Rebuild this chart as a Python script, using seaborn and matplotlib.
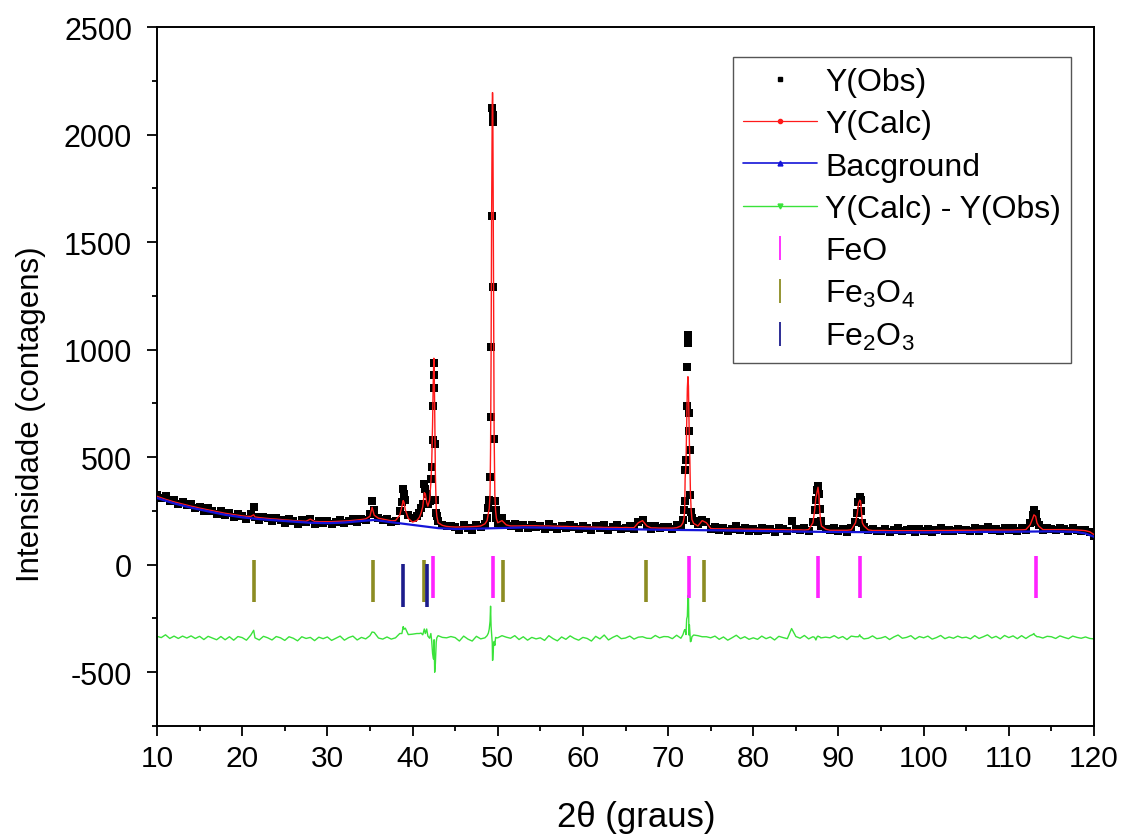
import numpy as np
import pandas as pd
import matplotlib
matplotlib.use("Agg")
import matplotlib.pyplot as plt
from matplotlib.lines import Line2D
import seaborn as sns

# ---------------- data ----------------
two_theta_base = np.round(np.arange(10, 120.001, 0.5), 2)   # 0.5 deg sampling grid

obs_base = [
    325, 312, 318, 295, 300, 284, 290, 276, 281, 265,   # 10.0-14.5
    270, 251, 262, 250, 238, 249, 230, 241, 222, 236,   # 15.0-19.5
    228, 214, 236, 222, 209, 224, 215, 203, 218, 210,   # 20.0-24.5
    196, 212, 203, 190, 208, 199, 214, 188, 203, 196,   # 25.0-29.5
    204, 188, 199, 210, 192, 205, 214, 198, 212, 208,   # 30.0-34.5
    235, 255, 215, 206, 212, 198, 205, 250, 330, 230,   # 35.0-39.5
    215, 225, 262, 350, 298, 880, 205, 185, 178, 182,   # 40.0-44.5
    176, 160, 184, 170, 162, 185, 175, 190, 300, 1289,  # 45.0-49.5
    195, 215, 188, 178, 190, 172, 186, 170, 183, 176,   # 50.0-54.5
    180, 168, 190, 175, 165, 182, 171, 186, 174, 165,   # 55.0-59.5
    178, 172, 160, 181, 169, 186, 163, 175, 184, 168,   # 60.0-64.5
    172, 180, 166, 198, 210, 178, 168, 182, 170, 176,   # 65.0-69.5
    175, 166, 184, 178, 438, 620, 205, 190, 210, 200,   # 70.0-74.5
    168, 175, 160, 171, 155, 166, 178, 162, 170, 158,   # 75.0-79.5
    165, 158, 172, 160, 168, 153, 170, 164, 158, 205,   # 80.0-84.5
    168, 160, 172, 158, 200, 345, 180, 168, 160, 170,   # 85.0-89.5
    158, 166, 152, 170, 200, 314, 175, 160, 168, 155,   # 90.0-94.5
    158, 165, 150, 162, 171, 156, 160, 168, 152, 164,   # 95.0-99.5
    158, 166, 152, 160, 170, 155, 163, 158, 168, 160,   # 100.0-104.5
    163, 155, 170, 158, 166, 175, 160, 168, 156, 172,   # 105.0-109.5
    162, 170, 158, 172, 160, 195, 244, 185, 162, 170,   # 110.0-114.5
    168, 160, 172, 165, 158, 170, 163, 158, 162, 150,   # 115.0-119.5
    135,                                                # 120.0
]

calc_base = [
    318, 311, 304, 298, 292, 287, 282, 277, 272, 268,
    263, 259, 255, 251, 247, 243, 239, 236, 233, 230,
    227, 225, 224, 222, 219, 217, 215, 213, 212, 210,
    208, 207, 205, 204, 203, 202, 212, 201, 200, 200,
    200, 200, 201, 202, 203, 204, 206, 208, 210, 213,
    225, 230, 216, 212, 208, 204, 205, 230, 290, 215,
    198, 205, 240, 330, 300, 960, 195, 183, 178, 176,
    175, 175, 176, 176, 177, 178, 180, 190, 260, 1330,
    195, 205, 185, 180, 180, 180, 181, 181, 181, 181,
    180, 180, 180, 179, 179, 178, 178, 177, 177, 176,
    176, 175, 175, 174, 174, 173, 173, 173, 173, 172,
    173, 172, 172, 195, 205, 180, 171, 171, 170, 170,
    170, 170, 172, 180, 400, 560, 192, 180, 205, 195,
    168, 167, 167, 167, 166, 166, 166, 166, 165, 165,
    165, 165, 164, 164, 164, 163, 163, 163, 162, 162,
    162, 162, 161, 163, 195, 340, 180, 165, 160, 160,
    160, 160, 160, 162, 195, 300, 180, 162, 159, 159,
    159, 159, 158, 158, 158, 158, 158, 158, 158, 158,
    158, 158, 158, 159, 159, 159, 159, 160, 160, 160,
    160, 160, 160, 161, 161, 161, 161, 161, 161, 161,
    161, 161, 162, 162, 163, 185, 230, 180, 163, 163,
    163, 163, 163, 163, 162, 162, 161, 160, 158, 153,
    140,
]

# extra, finer-sampled points across the diffraction peaks
two_theta_peak = [21.35, 35.25, 38.75, 38.9, 39.15,
                  40.8, 41.2, 41.38, 41.66, 41.8, 42.15, 42.25, 42.35, 42.42, 42.47,
                  42.53, 42.6, 42.68, 42.78, 42.85,
                  48.75, 48.9, 49.1, 49.16, 49.22, 49.28, 49.36, 49.39, 49.42, 49.58,
                  49.66, 49.75, 49.85,
                  71.75, 71.88, 71.95, 72.1, 72.18, 72.26, 72.33, 72.39, 72.45, 72.55,
                  72.62, 72.7, 72.8,
                  87.2, 87.35, 87.6, 87.7, 87.8, 87.9,
                  92.2, 92.35, 92.6, 92.7, 92.8,
                  112.8, 112.95, 113.15, 113.3]
obs_peak = [267, 294, 290, 350, 300,
            240, 284, 376, 331, 280, 400, 454, 578, 738, 821,
            936, 560, 300, 240, 225,
            215, 262, 407, 687, 1013, 1620, 2125, 2090, 2058, 583,
            295, 252, 215,
            210, 252, 298, 485, 737, 920, 1068, 1029, 703, 532,
            322, 244, 215,
            252, 300, 368, 330, 260, 205,
            240, 290, 300, 250, 195,
            230, 252, 235, 200]
calc_peak = [232, 267, 270, 298, 255,
             220, 270, 335, 290, 272, 380, 470, 650, 830, 920,
             945, 720, 420, 260, 225,
             205, 240, 330, 540, 960, 1600, 2150, 2195, 2160, 600,
             330, 250, 215,
             195, 220, 260, 470, 650, 820, 874, 830, 690, 500,
             340, 260, 210,
             250, 310, 360, 325, 255, 205,
             235, 285, 295, 245, 195,
             215, 232, 225, 195]

bg_x = [10, 12, 14, 16, 18, 20, 22, 24, 26, 28, 30, 32, 34, 35.5, 37, 39, 41, 43, 45, 48,
        50, 53, 56, 60, 65, 70, 75, 80, 85, 90, 95, 100, 105, 110, 115, 118, 119, 120]
bg_y = [310, 285, 265, 248, 232, 220, 212, 206, 200, 195, 193, 196, 203, 208, 200, 190, 180, 170, 166, 168,
        170, 173, 172, 168, 165, 162, 160, 157, 154, 152, 151, 150, 152, 153, 155, 152, 145, 130]

feo_pos = [42.45, 49.4, 72.4, 87.6, 92.55, 113.15]
fe3o4_pos = [21.4, 35.3, 41.4, 50.6, 67.4, 74.25]
fe2o3_pos = [38.9, 41.65]

series_labels = ["Y(Obs)", "Y(Calc)", "Bacground", "Y(Calc) - Y(Obs)",
                 "FeO", "Fe$_3$O$_4$", "Fe$_2$O$_3$"]

DIFF_OFFSET = -340

# ---------------- styling ----------------
sns.set_theme(style="ticks")

FONT = "Liberation Sans"
plt.rcParams["font.family"] = [FONT, "DejaVu Sans"]
plt.rcParams["mathtext.fontset"] = "custom"
plt.rcParams["mathtext.rm"] = FONT
plt.rcParams["mathtext.it"] = FONT + ":italic"
plt.rcParams["mathtext.bf"] = FONT + ":bold"
plt.rcParams["text.color"] = "black"
plt.rcParams["axes.labelcolor"] = "black"
plt.rcParams["xtick.color"] = "black"
plt.rcParams["ytick.color"] = "black"
plt.rcParams["axes.edgecolor"] = "black"
plt.rcParams["axes.unicode_minus"] = False

C_OBS = "#000000"
C_CALC = "#ff1a1a"
C_BG = "#1414d8"
C_DIFF = "#3ae23a"
C_FEO = "#ff22ff"
C_FE3O4 = "#8c8c22"
C_FE2O3 = "#1c1c8c"

df = pd.DataFrame({
    "two_theta": np.concatenate([two_theta_base, np.array(two_theta_peak)]),
    "obs": np.concatenate([np.array(obs_base, float), np.array(obs_peak, float)]),
    "calc": np.concatenate([np.array(calc_base, float), np.array(calc_peak, float)]),
}).sort_values("two_theta").reset_index(drop=True)
df["diff"] = df["obs"] - df["calc"] + DIFF_OFFSET

fig = plt.figure(figsize=(11.22, 8.37), dpi=100)
ax = fig.add_axes([157 / 1122, 1 - 727 / 837, 937 / 1122, 699 / 837])

sns.lineplot(data=df, x="two_theta", y="diff", color=C_DIFF, lw=1.0, ax=ax,
             estimator=None, sort=False, zorder=2)
sns.scatterplot(data=df, x="two_theta", y="obs", marker="s", s=38, color=C_OBS,
                linewidth=0, ax=ax, zorder=3)
sns.lineplot(data=df, x="two_theta", y="calc", color=C_CALC, lw=1.0, ax=ax,
             estimator=None, sort=False, zorder=4)
sns.lineplot(x=bg_x, y=bg_y, color=C_BG, lw=1.6, ax=ax, estimator=None, sort=False, zorder=5)

ax.vlines(feo_pos, -155, 40, colors=C_FEO, lw=2.6, zorder=3)
ax.vlines(fe3o4_pos, -175, 20, colors=C_FE3O4, lw=2.6, zorder=3)
ax.vlines(fe2o3_pos, -195, 5, colors=C_FE2O3, lw=2.6, zorder=3)

ax.set_xlim(10, 120)
ax.set_ylim(-750, 2500)
ax.set_xticks(np.arange(10, 121, 10))
ax.set_xticks(np.arange(15, 120, 10), minor=True)
ax.set_yticks(np.arange(-500, 2501, 500))
ax.set_yticks(np.arange(-750, 2500, 500), minor=True)

for side in ["left", "bottom", "top", "right"]:
    ax.spines[side].set_visible(True)
    ax.spines[side].set_color("black")
    ax.spines[side].set_linewidth(1.4)

ax.tick_params(axis="both", which="major", direction="out", length=7, width=1.3,
               color="black", top=False, right=False)
ax.tick_params(axis="both", which="minor", direction="out", length=3.8, width=1.3,
               color="black", top=False, right=False)
ax.tick_params(axis="x", which="major", pad=6)
ax.tick_params(axis="y", which="major", pad=11)

for lab in ax.get_yticklabels():
    lab.set_fontsize(22)
for lab in ax.get_xticklabels():
    lab.set_fontsize(21.5)

ax.set_xlabel("2θ (graus)", fontsize=25)
ax.set_ylabel("Intensidade (contagens)", fontsize=22.5)
ax.yaxis.set_label_coords(-0.118, 0.448)
ax.xaxis.set_label_coords(0.511, -0.106)

handles = [
    Line2D([], [], color=C_OBS, marker="s", markersize=3.5, linestyle="None"),
    Line2D([], [], color=C_CALC, lw=0.9, marker="o", markersize=3),
    Line2D([], [], color=C_BG, lw=1.2, marker="^", markersize=3.5),
    Line2D([], [], color=C_DIFF, lw=1.0, marker="v", markersize=3.5),
    Line2D([], [], color=C_FEO, marker="|", markersize=17, markeredgewidth=1.3, linestyle="None"),
    Line2D([], [], color=C_FE3O4, marker="|", markersize=17, markeredgewidth=1.3, linestyle="None"),
    Line2D([], [], color=C_FE2O3, marker="|", markersize=17, markeredgewidth=1.3, linestyle="None"),
]
leg = ax.legend(handles, series_labels, loc="upper right", bbox_to_anchor=(0.9755, 0.957),
                borderaxespad=0, frameon=True, fancybox=False, fontsize=23,
                handlelength=2.3, handletextpad=0.25, labelspacing=0.38, borderpad=0.32)
leg.get_frame().set_edgecolor("#555555")
leg.get_frame().set_linewidth(1.0)
leg.get_frame().set_alpha(1)

fig.savefig("out.png", dpi=100)
